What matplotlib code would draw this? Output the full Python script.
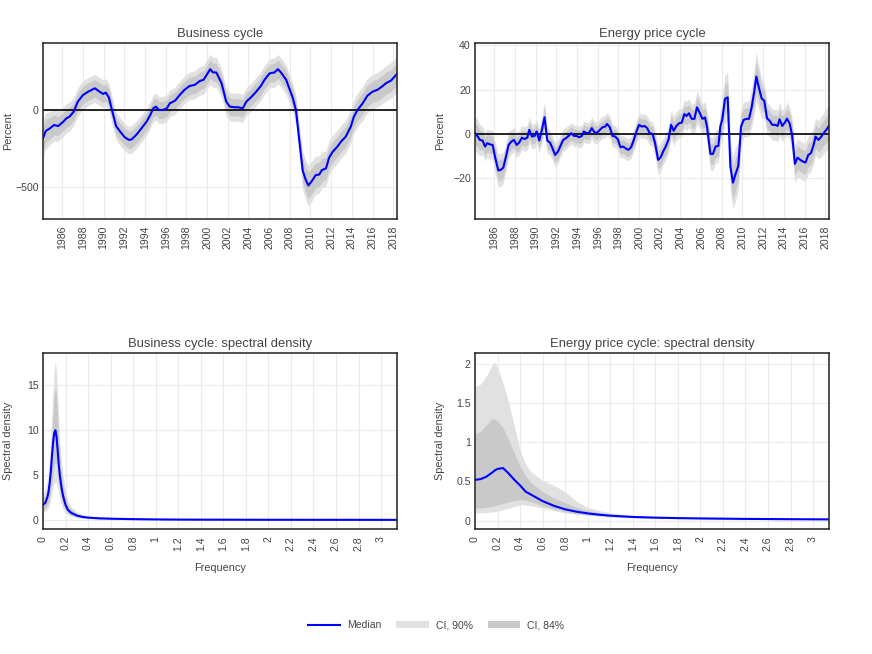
import numpy as np
import matplotlib
matplotlib.use("Agg")
import matplotlib.pyplot as plt
from matplotlib.ticker import MultipleLocator, FormatStrFormatter
from matplotlib.lines import Line2D
from matplotlib.patches import Patch

plt.rcParams['font.family'] = ['Liberation Sans', 'DejaVu Sans']

## ---------------- data ----------------

# business cycle, percent
bc_years = [1984.13, 1984.4, 1984.8, 1985.2, 1985.6, 1986.1, 1986.4, 1986.7,
            1987.1, 1987.5, 1988.0, 1988.5, 1989.15, 1989.6, 1989.95, 1990.2,
            1990.5, 1990.8, 1991.2, 1991.6, 1992.05, 1992.45, 1992.7, 1993.2,
            1993.65, 1994.15, 1994.5, 1994.8, 1995.05, 1995.35, 1995.7, 1996.1,
            1996.4, 1996.9, 1997.35, 1997.8, 1998.3, 1998.8, 1999.3, 1999.65,
            1999.9, 2000.3, 2000.55, 2000.9, 2001.4, 2001.85, 2002.2, 2002.65,
            2003.0, 2003.45, 2003.8, 2004.25, 2004.75, 2005.2, 2005.55, 2006.05,
            2006.5, 2006.85, 2007.15, 2007.65, 2007.95, 2008.3, 2008.6, 2008.95,
            2009.25, 2009.55, 2009.8, 2010.2, 2010.5, 2010.85, 2011.1, 2011.5,
            2011.8, 2012.15, 2012.6, 2012.95, 2013.4, 2013.9, 2014.2, 2014.55,
            2015.05, 2015.5, 2016.0, 2016.5, 2017.0, 2017.3, 2017.8, 2018.37]
bc_median = [-183, -135, -118, -96, -103, -74, -52, -41,
             -9, 57, 100, 122, 144, 122, 107, 116,
             85, 2, -103, -140, -177, -194, -190, -157,
             -118, -74, -31, 13, 24, 2, 2, 13,
             46, 63, 100, 133, 159, 166, 192, 199,
             225, 269, 249, 247, 177, 57, 24, 20,
             20, 13, 57, 85, 122, 159, 199, 242,
             247, 269, 247, 199, 144, 79, -2, -215,
             -395, -456, -492, -456, -424, -420, -391, -380,
             -310, -271, -238, -205, -173, -107, -41, 2,
             46, 95, 122, 135, 160, 177, 195, 238]
bc_half84 = [80, 75, 70, 65, 62, 60, 58, 58,
             57, 57, 57, 57, 57, 57, 57, 57,
             57, 57, 56, 56, 56, 56, 56, 56,
             56, 56, 56, 56, 56, 56, 56, 56,
             56, 56, 57, 57, 57, 57, 58, 58,
             60, 60, 60, 60, 58, 57, 57, 57,
             57, 57, 57, 57, 58, 58, 58, 58,
             60, 60, 60, 60, 60, 60, 62, 70,
             80, 85, 88, 85, 80, 78, 75, 72,
             70, 68, 67, 67, 67, 68, 68, 68,
             70, 70, 70, 72, 72, 72, 72, 74]
bc_half90 = [125, 118, 110, 104, 100, 96, 94, 94,
             92, 92, 92, 92, 92, 92, 92, 92,
             92, 92, 90, 90, 90, 90, 90, 90,
             88, 88, 88, 88, 88, 88, 88, 88,
             88, 88, 90, 90, 90, 92, 94, 94,
             96, 98, 98, 98, 94, 92, 92, 92,
             92, 92, 92, 92, 94, 94, 94, 94,
             96, 96, 96, 96, 96, 96, 98, 110,
             125, 132, 135, 130, 125, 120, 118, 114,
             112, 110, 108, 108, 108, 110, 110, 110,
             112, 112, 112, 114, 114, 116, 118, 120]

# energy price cycle, percent
ep_years = [1984.13, 1984.4, 1984.6, 1984.87, 1985.1, 1985.32, 1985.58, 1985.84,
            1986.1, 1986.39, 1986.64, 1986.87, 1987.13, 1987.38, 1987.64, 1987.9,
            1988.16, 1988.4, 1988.67, 1988.93, 1989.19, 1989.38, 1989.64, 1989.9,
            1990.09, 1990.35, 1990.6, 1990.86, 1991.12, 1991.38, 1991.63, 1991.89,
            1992.15, 1992.4, 1992.66, 1992.92, 1993.18, 1993.44, 1993.7, 1993.95,
            1994.2, 1994.47, 1994.66, 1994.92, 1995.18, 1995.43, 1995.7, 1995.95,
            1996.2, 1996.46, 1996.72, 1996.9, 1997.17, 1997.43, 1997.69, 1997.94,
            1998.2, 1998.46, 1998.72, 1998.97, 1999.23, 1999.49, 1999.75, 2000.0,
            2000.26, 2000.52, 2000.78, 2001.04, 2001.3, 2001.55, 2001.84, 2002.1,
            2002.32, 2002.58, 2002.84, 2003.1, 2003.35, 2003.61, 2003.87, 2004.13,
            2004.38, 2004.58, 2004.83, 2005.09, 2005.35, 2005.6, 2005.86, 2006.12,
            2006.38, 2006.57, 2006.9, 2007.15, 2007.4, 2007.67, 2007.86, 2008.05,
            2008.31, 2008.57, 2008.83, 2009.08, 2009.34, 2009.6, 2009.86, 2010.11,
            2010.37, 2010.63, 2010.89, 2011.14, 2011.34, 2011.6, 2011.85, 2012.11,
            2012.37, 2012.63, 2012.88, 2013.14, 2013.4, 2013.59, 2013.85, 2014.1,
            2014.3, 2014.56, 2014.8, 2015.07, 2015.33, 2015.59, 2015.85, 2016.1,
            2016.36, 2016.62, 2016.88, 2017.07, 2017.33, 2017.58, 2017.84, 2018.1,
            2018.37]
ep_median = [0.3, -1.2, -2.7, -3.0, -5.7, -4.2, -4.7, -5.0,
             -11.0, -16.5, -16.2, -15.2, -10.2, -5.0, -3.5, -2.7,
             -5.0, -3.9, -1.7, -2.3, -1.7, 1.8, -1.2, -0.9,
             1.1, -3.0, 1.8, 7.5, -3.0, -3.9, -6.5, -9.5,
             -8.0, -5.4, -2.7, -2.0, -0.9, 0.3, -0.9, -0.9,
             -1.5, -0.9, 1.1, 0.3, 0.6, 2.6, 0.6, 0.6,
             1.8, 3.0, 3.3, 4.5, 3.0, -0.9, -1.2, -2.4,
             -6.0, -5.7, -6.6, -7.2, -6.0, -2.7, 1.1, 4.1,
             3.3, 3.6, 2.6, 0.3, 0.0, -4.2, -11.7, -10.5,
             -8.0, -5.7, -2.7, 4.1, 1.4, 3.6, 4.8, 5.1,
             9.0, 8.1, 9.3, 6.8, 6.8, 12.0, 9.6, 6.8,
             7.4, 3.3, -9.0, -9.0, -5.7, -5.4, 3.3, 6.6,
             15.8, 16.5, -14.7, -22.0, -18.0, -14.4, 3.3, 6.3,
             6.8, 6.8, 12.0, 19.1, 25.9, 20.6, 16.1, 14.9,
             7.1, 5.9, 4.1, 4.1, 3.6, 6.6, 3.6, 5.1,
             6.9, 4.8, -0.5, -13.5, -10.7, -11.7, -12.5, -12.9,
             -9.5, -8.7, -5.0, -1.2, -2.7, -1.5, 0.3, 1.8,
             3.6]
ep_half84 = [5, 4.7, 4.4, 4, 4, 4, 4, 4,
             4.4, 4.7, 4.7, 4.4, 4, 3.7, 3.4, 3.4,
             3.4, 3.4, 3.4, 3.4, 3.4, 3.7, 3.4, 3.4,
             3.4, 3.4, 3.7, 4.4, 3.7, 3.4, 3.4, 3.4,
             3.4, 3.1, 3.1, 3.1, 3, 3, 3, 3,
             3, 3, 3, 3, 3, 3.1, 3.1, 3.1,
             3.1, 3.1, 3.1, 3.2, 3.2, 3.1, 3.1, 3.1,
             3.1, 3.1, 3.1, 3.1, 3.1, 3.1, 3.2, 3.4,
             3.4, 3.4, 3.4, 3.4, 3.4, 3.7, 4, 4,
             3.7, 3.7, 3.7, 4, 4, 4, 4, 4,
             4, 4, 4, 4, 4.4, 4.7, 4.4, 4.4,
             4.4, 4.4, 4.7, 4.7, 4.7, 4.7, 5, 5.6,
             6.8, 6.8, 6.8, 7.4, 7.4, 6.8, 5.6, 5,
             5, 5, 5.6, 6.2, 6.8, 6.2, 5.6, 5,
             4.7, 4.4, 4.4, 4.4, 4.4, 4.7, 4.4, 4.4,
             4.7, 4.7, 5, 5.3, 5.3, 5.3, 5.3, 5.3,
             5.3, 5.3, 5.3, 5.3, 5.3, 5.6, 5.6, 5.9,
             5.9]
ep_half90 = [8, 7.5, 7, 6.5, 6.5, 6.5, 6.5, 6.5,
             7, 7.5, 7.5, 7, 6.5, 6, 5.5, 5.5,
             5.5, 5.5, 5.5, 5.5, 5.5, 6, 5.5, 5.5,
             5.5, 5.5, 6, 7, 6, 5.5, 5.5, 5.5,
             5.5, 5, 5, 5, 4.8, 4.8, 4.8, 4.8,
             4.8, 4.8, 4.8, 4.8, 4.8, 5, 5, 5,
             5, 5, 5, 5.2, 5.2, 5, 5, 5,
             5, 5, 5, 5, 5, 5, 5.2, 5.5,
             5.5, 5.5, 5.5, 5.5, 5.5, 6, 6.5, 6.5,
             6, 6, 6, 6.5, 6.5, 6.5, 6.5, 6.5,
             6.5, 6.5, 6.5, 6.5, 7, 7.5, 7, 7,
             7, 7, 7.5, 7.5, 7.5, 7.5, 8, 9,
             11, 11, 11, 12, 12, 11, 9, 8,
             8, 8, 9, 10, 11, 10, 9, 8,
             7.5, 7, 7, 7, 7, 7.5, 7, 7,
             7.5, 7.5, 8, 8.5, 8.5, 8.5, 8.5, 8.5,
             8.5, 8.5, 8.5, 8.5, 8.5, 9, 9, 9.5,
             9.5]

# business cycle spectral density
bc_freq = [0, 0.02, 0.04, 0.05, 0.06, 0.07, 0.08, 0.09, 0.10, 0.11, 0.12,
           0.13, 0.14, 0.15, 0.16, 0.17, 0.18, 0.20, 0.22, 0.25, 0.30, 0.35,
           0.40, 0.50, 0.60, 0.80, 1.0, 1.2, 1.5, 2.0, 2.5, 3.0, 3.1416]
bc_sd_median = [1.7, 1.9, 2.6, 3.2, 4.2, 5.5, 7.2, 8.7, 9.7, 10.0, 9.3,
                7.8, 6.2, 4.9, 4.0, 3.2, 2.6, 1.7, 1.15, 0.8, 0.5, 0.35,
                0.27, 0.19, 0.15, 0.10, 0.07, 0.05, 0.04, 0.03, 0.025, 0.02, 0.02]
bc_sd_up90 = [3.0, 3.4, 4.6, 5.6, 7.2, 9.4, 12.0, 14.8, 16.8, 17.6, 16.6,
              14.0, 11.0, 8.6, 7.0, 5.8, 4.8, 3.2, 2.2, 1.5, 0.9, 0.6,
              0.45, 0.3, 0.22, 0.15, 0.1, 0.08, 0.06, 0.05, 0.04, 0.035, 0.035]
bc_sd_up84 = [2.4, 2.7, 3.6, 4.4, 5.7, 7.5, 9.7, 12.2, 14.0, 14.7, 13.8,
              11.5, 9.0, 7.0, 5.6, 4.6, 3.8, 2.5, 1.7, 1.2, 0.75, 0.5,
              0.38, 0.25, 0.19, 0.13, 0.09, 0.07, 0.05, 0.04, 0.035, 0.03, 0.03]
bc_sd_lo84 = [1.1, 1.3, 1.7, 2.0, 2.6, 3.4, 4.3, 5.3, 6.2, 6.6, 6.2,
              5.2, 4.1, 3.2, 2.5, 2.0, 1.6, 1.1, 0.8, 0.55, 0.35, 0.25,
              0.19, 0.13, 0.11, 0.07, 0.05, 0.035, 0.03, 0.02, 0.018, 0.015, 0.015]
bc_sd_lo90 = [0.8, 0.95, 1.25, 1.45, 1.9, 2.5, 3.1, 3.7, 4.1, 4.3, 4.1,
              3.6, 3.0, 2.4, 1.9, 1.5, 1.2, 0.8, 0.6, 0.42, 0.27, 0.2,
              0.15, 0.1, 0.08, 0.05, 0.035, 0.025, 0.02, 0.015, 0.012, 0.01, 0.01]

# energy price cycle spectral density
ep_freq = [0, 0.05, 0.1, 0.15, 0.175, 0.2, 0.25, 0.3, 0.35, 0.4, 0.45, 0.5,
           0.6, 0.7, 0.8, 0.9, 1.0, 1.1, 1.2, 1.4, 1.6, 1.8, 2.0, 2.4, 2.8, 3.1416]
ep_sd_median = [0.52, 0.53, 0.56, 0.61, 0.64, 0.66, 0.67, 0.60, 0.52, 0.45, 0.37, 0.33,
                0.25, 0.19, 0.145, 0.115, 0.093, 0.077, 0.064, 0.048, 0.039, 0.033,
                0.029, 0.023, 0.019, 0.017]
ep_sd_up90 = [1.71, 1.74, 1.84, 1.98, 2.02, 1.95, 1.75, 1.5, 1.2, 0.9, 0.72, 0.62,
              0.51, 0.45, 0.37, 0.25, 0.17, 0.13, 0.1, 0.065, 0.05, 0.04,
              0.035, 0.028, 0.023, 0.02]
ep_sd_up84 = [1.11, 1.14, 1.22, 1.30, 1.29, 1.27, 1.18, 1.03, 0.86, 0.69, 0.57, 0.48,
              0.37, 0.29, 0.23, 0.17, 0.13, 0.1, 0.08, 0.056, 0.045, 0.037,
              0.032, 0.026, 0.021, 0.019]
ep_sd_lo84 = [0.16, 0.16, 0.17, 0.18, 0.19, 0.2, 0.22, 0.24, 0.26, 0.27, 0.26, 0.24,
              0.19, 0.15, 0.115, 0.09, 0.075, 0.063, 0.053, 0.04, 0.033, 0.029,
              0.026, 0.021, 0.017, 0.015]
ep_sd_lo90 = [0.10, 0.10, 0.105, 0.11, 0.115, 0.12, 0.14, 0.16, 0.18, 0.2, 0.2, 0.19,
              0.16, 0.13, 0.1, 0.08, 0.067, 0.056, 0.047, 0.036, 0.03, 0.026,
              0.023, 0.019, 0.015, 0.013]

## ---------------- styling ----------------
LIGHT = '#e1e1e1'
DARK = '#c9c9c9'
BLUE = '#0000ff'
TXT = '#444444'


def style_axes(ax, title, ylabel):
    ax.set_title(title, fontsize=9.4, color=TXT, pad=4)
    ax.set_ylabel(ylabel, fontsize=7.8, color=TXT)
    ax.yaxis.set_label_coords(-0.085, 0.5)
    ax.grid(True, color='#ebebeb', linewidth=0.8)
    ax.set_axisbelow(True)
    for s in ax.spines.values():
        s.set_color('#222222')
        s.set_linewidth(1.1)
    ax.tick_params(length=0, labelsize=7.6, labelcolor=TXT)
    ax.tick_params(axis='y', pad=3)
    ax.tick_params(axis='x', pad=5, labelrotation=90)


fig = plt.figure(figsize=(8.72, 6.54), dpi=100)
W, H = 0.406, 0.2691
ax1 = fig.add_axes([0.0493, 0.6651, W, H])
ax2 = fig.add_axes([0.5447, 0.6651, W, H])
ax3 = fig.add_axes([0.0493, 0.1911, W, H])
ax4 = fig.add_axes([0.5447, 0.1911, W, H])

# business cycle
x = np.array(bc_years)
m = np.array(bc_median)
h84 = np.array(bc_half84)
h90 = np.array(bc_half90)
ax1.fill_between(x, m - h90, m + h90, color=LIGHT, linewidth=0)
ax1.fill_between(x, m - h84, m + h84, color=DARK, linewidth=0)
ax1.axhline(0, color='black', linewidth=1.2)
ax1.plot(x, m, color=BLUE, linewidth=1.5)
ax1.set_xlim(1984.13, 2018.37)
ax1.set_ylim(-711, 440)
ax1.yaxis.set_major_locator(MultipleLocator(500))
ax1.xaxis.set_major_locator(MultipleLocator(2))
style_axes(ax1, 'Business cycle', 'Percent')

# energy price cycle
x = np.array(ep_years)
m = np.array(ep_median)
h84 = np.array(ep_half84)
h90 = np.array(ep_half90)
ax2.fill_between(x, m - h90, m + h90, color=LIGHT, linewidth=0)
ax2.fill_between(x, m - h84, m + h84, color=DARK, linewidth=0)
ax2.axhline(0, color='black', linewidth=1.2)
ax2.plot(x, m, color=BLUE, linewidth=1.5)
ax2.set_xlim(1984.13, 2018.37)
ax2.set_ylim(-38.4, 41)
ax2.yaxis.set_major_locator(MultipleLocator(20))
ax2.xaxis.set_major_locator(MultipleLocator(2))
style_axes(ax2, 'Energy price cycle', 'Percent')

# spectral densities
ax3.fill_between(bc_freq, bc_sd_lo90, bc_sd_up90, color=LIGHT, linewidth=0)
ax3.fill_between(bc_freq, bc_sd_lo84, bc_sd_up84, color=DARK, linewidth=0)
ax3.plot(bc_freq, bc_sd_median, color=BLUE, linewidth=1.5)
ax3.set_ylim(-1.0, 18.6)
ax3.yaxis.set_major_locator(MultipleLocator(5))

ax4.fill_between(ep_freq, ep_sd_lo90, ep_sd_up90, color=LIGHT, linewidth=0)
ax4.fill_between(ep_freq, ep_sd_lo84, ep_sd_up84, color=DARK, linewidth=0)
ax4.plot(ep_freq, ep_sd_median, color=BLUE, linewidth=1.5)
ax4.set_ylim(-0.106, 2.136)
ax4.yaxis.set_major_locator(MultipleLocator(0.5))
ax4.yaxis.set_major_formatter(FormatStrFormatter('%g'))

for ax, t in [(ax3, 'Business cycle: spectral density'),
              (ax4, 'Energy price cycle: spectral density')]:
    ax.set_xlim(0, np.pi)
    ax.xaxis.set_major_locator(MultipleLocator(0.2))
    ax.xaxis.set_major_formatter(FormatStrFormatter('%g'))
    style_axes(ax, t, 'Spectral density')
    ax.set_xlabel('Frequency', fontsize=7.8, color=TXT)
    ax.xaxis.set_label_coords(0.5, -0.193)

handles = [Line2D([], [], color=BLUE, linewidth=1.5),
           Patch(facecolor=LIGHT, edgecolor='none'),
           Patch(facecolor=DARK, edgecolor='none')]
fig.legend(handles, ['Median', 'CI, 90%', 'CI, 84%'], loc='center',
           bbox_to_anchor=(0.5, 0.044), ncol=3, frameon=False, fontsize=7.5,
           handlelength=3.1, handleheight=0.6, handletextpad=0.7,
           columnspacing=1.4, labelcolor=TXT)

fig.savefig('out.png', dpi=100)
